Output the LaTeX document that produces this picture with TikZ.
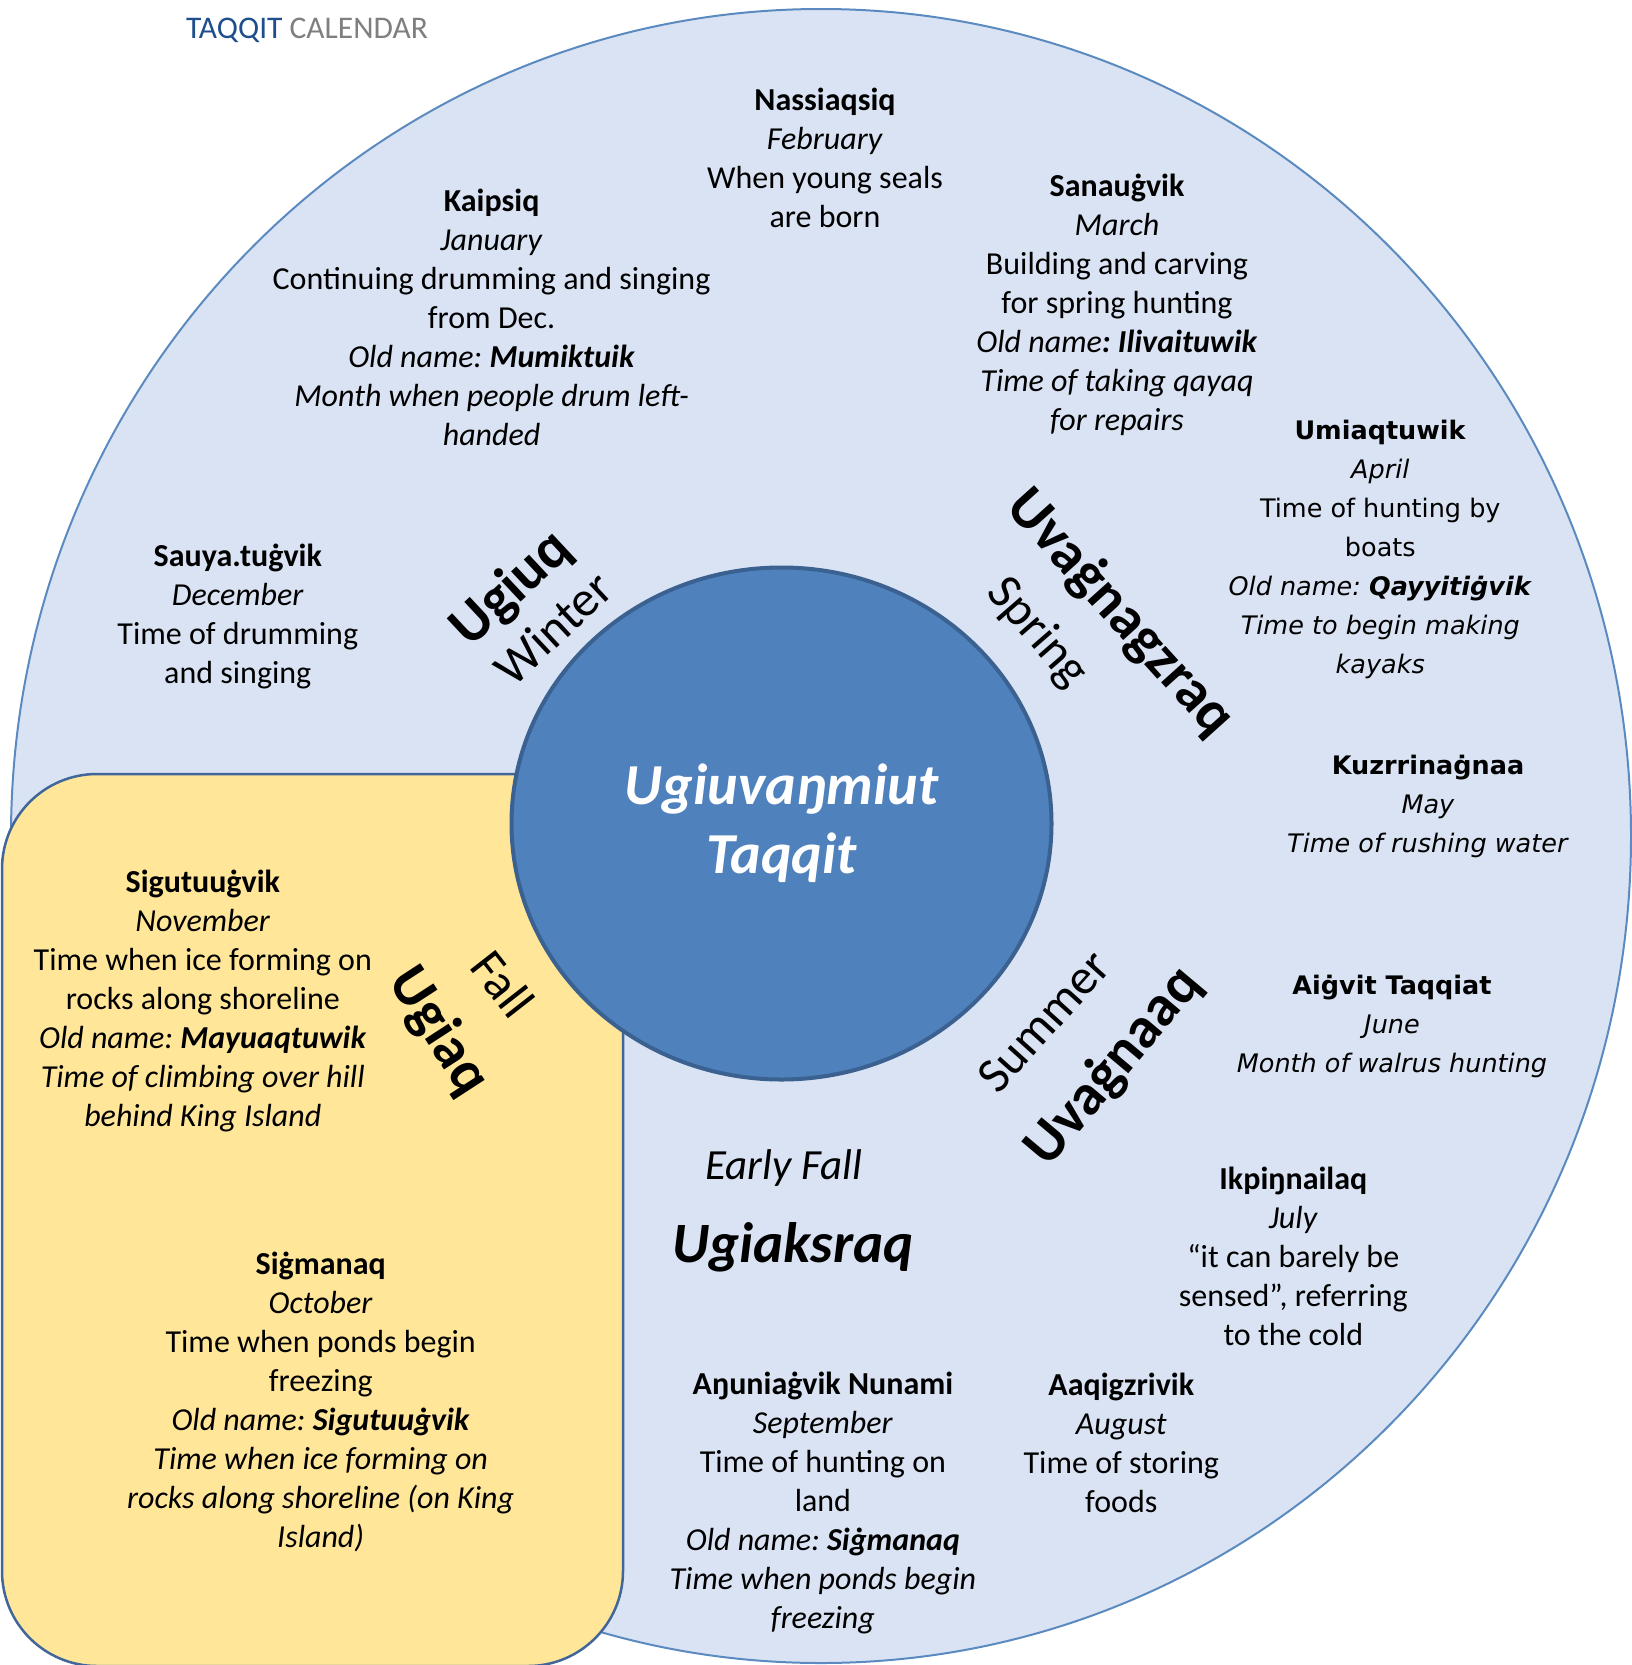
\documentclass[tikz,border=0pt]{standalone}
\usepackage{fontspec}
\setmainfont{Carlito}
\newfontfamily\calfont{Carlito}
\newfontfamily\verfont{DejaVu Sans}
\usetikzlibrary{shapes.geometric}

\definecolor{ringfill}{HTML}{DAE3F3}
\definecolor{ringline}{HTML}{5B8AC0}
\definecolor{hubfill}{HTML}{4F81BD}
\definecolor{hubline}{HTML}{3B6190}
\definecolor{fallfill}{HTML}{FFE699}
\definecolor{fallline}{HTML}{41679A}
\definecolor{titleblue}{HTML}{1F4E8C}
\definecolor{titlegray}{HTML}{7F7F7F}

\tikzset{
  monthtext/.style={align=center, inner sep=0pt, font=\calfont\fontsize{32}{39}\selectfont},
  monthwide/.style={align=center, inner sep=0pt, font=\verfont\fontsize{25.5}{39}\selectfont},
  seasontext/.style={inner sep=0pt, font=\calfont\fontsize{50}{50}\selectfont},
  seasonname/.style={inner sep=0pt, font=\calfont\bfseries\fontsize{58}{58}\selectfont},
}

\begin{document}
\frenchspacing
\begin{tikzpicture}[x=1pt, y=-1pt]
  \useasboundingbox (0,0) rectangle (1632,1665);
  \clip (0,0) rectangle (1632,1665);

  % rings
  \draw[ringline, fill=ringfill, line width=2pt] (821,836) ellipse [x radius=810pt, y radius=827pt];
  \draw[fallline, fill=fallfill, line width=2.5pt, rounded corners=95pt] (2,774) rectangle (623,1666);
  \node[ellipse, draw=hubline, fill=hubfill, line width=4pt, minimum width=540pt, minimum height=512pt,
        align=center, text=white, font=\calfont\bfseries\itshape\fontsize{58}{69}\selectfont] (hub) at (781.5,823.5)
        {Ugiuvaŋmiut\\Taqqit};

  \node[inner sep=0pt, font=\calfont\fontsize{31.5}{31.5}\selectfont] (title) at (307,30)
        {\textcolor{titleblue}{TAQQIT} \textcolor{titlegray}{CALENDAR}};

  % seasons
  \node[seasonname, rotate=43] (ugiuq) at (512,589) {Ugiuq};
  \node[seasontext, rotate=43] (winter) at (553,628) {Winter};
  \node[seasonname, rotate=-48] (uvagnagzraq) at (1120,613.5) {Uvaġnagzraq};
  \node[seasontext, rotate=-49] (spring) at (1037,633) {Spring};
  \node[seasontext, rotate=48] (summer) at (1044,1021) {Summer};
  \node[seasonname, rotate=50] (uvagnaaq) at (1114,1067) {Uvaġnaaq};
  \node[seasontext, rotate=-52] (fall) at (503,984) {Fall};
  \node[seasonname, rotate=-57] (ugiaq) at (438.5,1032) {Ugiaq};
  \node[inner sep=0pt, font=\calfont\itshape\fontsize{43}{43}\selectfont] (earlyfall) at (783.6,1168) {Early Fall};
  \node[inner sep=0pt, font=\calfont\bfseries\itshape\fontsize{57}{57}\selectfont] (ugiaksraq) at (793,1247) {Ugiaksraq};

  % months
  \node[monthtext] (jan) at (491.6,317.5) {\textbf{Kaipsiq}\\\textit{January}\\Continuing drumming and singing\\from Dec.\\
        \textit{Old name: \textbf{Mumiktuik}}\\\textit{Month when people drum left-}\\\textit{handed}};
  \node[monthtext] (feb) at (825,158.2) {\textbf{Nassiaqsiq}\\\textit{February}\\When young seals\\are born};
  \node[monthtext] (mar) at (1117,304.5) {\textbf{Sanauġvik}\\\textit{March}\\Building and carving\\for spring hunting\\
        \textit{Old name\textbf{: Ilivaituwik}}\\\textit{Time of taking qayaq}\\\textit{for repairs}};
  \node[monthwide] (apr) at (1380.3,549.5) {\textbf{Umiaqtuwik}\\\textit{April}\\Time of hunting by\\boats\\
        \textit{Old name: \textbf{Qayyitiġvik}}\\\textit{Time to begin making}\\\textit{kayaks}};
  \node[monthwide] (may) at (1428,806.5) {\textbf{Kuzrrinaġnaa}\\\textit{May}\\\textit{Time of rushing water}};
  \node[monthwide] (jun) at (1392,1026) {\textbf{Aiġvit Taqqiat}\\\textit{June}\\\textit{Month of walrus hunting}};
  \node[monthtext] (jul) at (1293.3,1256.6) {\textbf{Ikpiŋnailaq}\\\textit{July}\\“it can barely be\\sensed”, referring\\to the cold};
  \node[monthtext] (aug) at (1121.3,1443) {\textbf{Aaqigzrivik}\\\textit{August}\\Time of storing\\foods};
  \node[monthtext] (sep) at (822.9,1503) {\textbf{Aŋuniaġvik Nunami}\\\textit{September}\\Time of hunting on\\land\\
        \textit{Old name: \textbf{Siġmanaq}}\\\textit{Time when ponds begin}\\\textit{freezing}};
  \node[monthtext] (oct) at (320.7,1401.5) {\textbf{Siġmanaq}\\\textit{October}\\Time when ponds begin\\freezing\\
        \textit{Old name: \textbf{Sigutuuġvik}}\\\textit{Time when ice forming on}\\\textit{rocks along shoreline (on King}\\\textit{Island)}};
  \node[monthtext] (nov) at (202.8,1000.5) {\textbf{Sigutuuġvik}\\\textit{November}\\Time when ice forming on\\rocks along shoreline\\
        \textit{Old name: \textbf{Mayuaqtuwik}}\\\textit{Time of climbing over hill}\\\textit{behind King Island}};
  \node[monthtext] (dec) at (237.8,616) {\textbf{Sauya.tuġvik}\\\textit{December}\\Time of drumming\\and singing};
\end{tikzpicture}
\end{document}
